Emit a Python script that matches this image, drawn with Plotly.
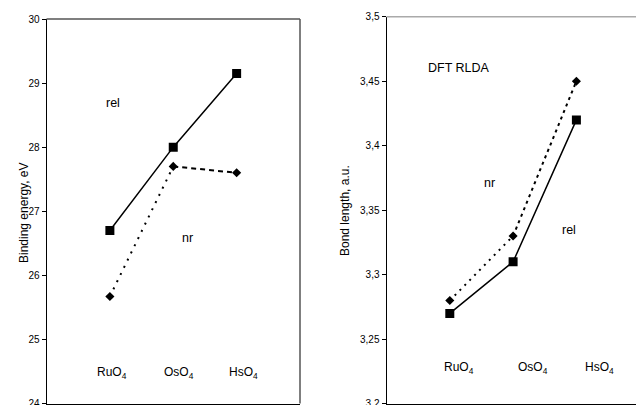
import plotly.graph_objects as go

# ---- data ----
molecules = ["RuO<sub>4</sub>", "OsO<sub>4</sub>", "HsO<sub>4</sub>"]
xpos = [1, 2, 3]
energy_rel = [26.70, 28.00, 29.15]
energy_nr = [25.67, 27.70, 27.60]
bond_rel = [3.27, 3.31, 3.42]
bond_nr = [3.28, 3.33, 3.45]
energy_ticks = [24, 25, 26, 27, 28, 29, 30]
bond_ticks = [3.2, 3.25, 3.3, 3.35, 3.4, 3.45, 3.5]
bond_ticktext = ["3,2", "3,25", "3,3", "3,35", "3,4", "3,45", "3,5"]

W, H = 636, 405
FONT = "Liberation Sans, Arial, sans-serif"

fig = go.Figure()

def add_series(xa, ya, rel, nr, dash1, dash2):
    # rel: solid line with squares
    fig.add_trace(go.Scatter(x=xpos, y=rel, mode="lines+markers", xaxis=xa, yaxis=ya,
                             line=dict(color="black", width=1.5),
                             marker=dict(symbol="square", size=9, color="black"),
                             showlegend=False, hoverinfo="skip"))
    # nr: dotted / dashed segments, diamonds
    fig.add_trace(go.Scatter(x=xpos[0:2], y=nr[0:2], mode="lines", xaxis=xa, yaxis=ya,
                             line=dict(color="black", width=2, dash=dash1),
                             showlegend=False, hoverinfo="skip"))
    fig.add_trace(go.Scatter(x=xpos[1:3], y=nr[1:3], mode="lines", xaxis=xa, yaxis=ya,
                             line=dict(color="black", width=2, dash=dash2),
                             showlegend=False, hoverinfo="skip"))
    fig.add_trace(go.Scatter(x=xpos, y=nr, mode="markers", xaxis=xa, yaxis=ya,
                             marker=dict(symbol="diamond", size=7, color="black"),
                             showlegend=False, hoverinfo="skip"))

add_series("x", "y", energy_rel, energy_nr, "2px,6px", "5px,4px")
add_series("x2", "y2", bond_rel, bond_nr, "2px,5px", "3px,4px")

def px_x(p):
    return p / W

def px_y(p):
    return 1 - p / H

axis_common = dict(showgrid=False, zeroline=False, ticks="outside", ticklen=4,
                   tickcolor="black", linecolor="black", linewidth=1,
                   ticklabeloverflow="allow", automargin=False,
                   tickfont=dict(family=FONT, size=10, color="black"))

fig.update_layout(
    template="none",
    width=W, height=H,
    margin=dict(l=0, r=0, t=0, b=0, pad=0),
    paper_bgcolor="white", plot_bgcolor="white",
    xaxis=dict(domain=[px_x(46.5), px_x(300)], range=[0, 4], tickvals=[0, 1, 2, 3, 4],
               showticklabels=False, **axis_common),
    yaxis=dict(domain=[px_y(403.5), px_y(19)], range=[24, 30], tickvals=energy_ticks,
               **axis_common),
    xaxis2=dict(domain=[px_x(386.5), 1], range=[0, (636 - 386.5) / 63.3],
                tickvals=[0, 1, 2, 3, 4], showticklabels=False, anchor="y2", **axis_common),
    yaxis2=dict(domain=[px_y(403.7), px_y(16.7)], range=[3.2, 3.5], tickvals=bond_ticks,
                ticktext=bond_ticktext, anchor="x2", **axis_common),
)

# plot-area borders
fig.add_shape(type="line", xref="x domain", yref="y domain", x0=0, x1=1, y0=1, y1=1,
              line=dict(color="#555555", width=1.5))
fig.add_shape(type="line", xref="x domain", yref="y domain", x0=1, x1=1, y0=0, y1=1,
              line=dict(color="#555555", width=1.5))
fig.add_shape(type="line", xref="x2 domain", yref="y2 domain", x0=0, x1=1, y0=1, y1=1,
              line=dict(color="#aaaaaa", width=1.5))

def label(text, x, y, xref, yref, size=12.5):
    fig.add_annotation(text=text, x=x, y=y, xref=xref, yref=yref, showarrow=False,
                       font=dict(family=FONT, size=size, color="black"))

# category labels inside plots
for name, xl in zip(molecules, [1.03, 2.09, 3.11]):
    label(name, xl, 24.48, "x", "y", 12)
for name, xl in zip(molecules, [1.14, 2.32, 3.36]):
    label(name, xl, 3.228, "x2", "y2", 12)

label("rel", 1.05, 28.69, "x", "y")
label("nr", 2.22, 26.58, "x", "y")
label("DFT RLDA", 1.14, 3.46, "x2", "y2")
label("nr", 1.63, 3.371, "x2", "y2")
label("rel", 2.88, 3.335, "x2", "y2")

# axis titles (paper coords = full figure since margins are zero)
fig.add_annotation(text="Binding energy, eV", x=px_x(15), y=px_y(213), xref="paper", yref="paper",
                   showarrow=False, textangle=-90, font=dict(family=FONT, size=12, color="black"))
fig.add_annotation(text="Bond length, a.u.", x=px_x(345), y=px_y(211), xref="paper", yref="paper",
                   showarrow=False, textangle=-90, font=dict(family=FONT, size=12, color="black"))

fig.write_html("out.html")
